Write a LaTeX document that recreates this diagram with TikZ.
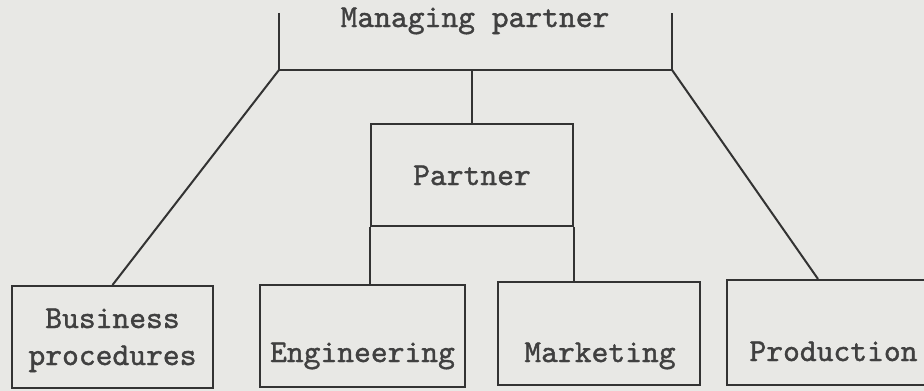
\documentclass[tikz,border=0pt]{standalone}
\usepackage{fontspec}
\newfontfamily\twfont{lmmono10-regular.otf}[FakeBold=1.2]
\definecolor{bgc}{HTML}{E8E8E5}
\definecolor{linec}{HTML}{333333}
\definecolor{textc}{HTML}{404040}
\begin{document}
\begin{tikzpicture}[x=1pt,y=-1pt,
  line/.style={draw=linec, line width=2pt},
  box/.style={line, rectangle, inner sep=0pt},
  lbl/.style={font=\twfont\fontsize{32}{37}\selectfont, text=textc, anchor=base, inner sep=0pt}]
\useasboundingbox (0,0) rectangle (924,391);
\fill[bgc] (0,0) rectangle (924,391);
\clip (0,0) rectangle (924,391);
% managing partner (open frame, top cut off)
\node[minimum width=393pt, minimum height=57pt, inner sep=0pt] (mp) at (475.5,41.5) {};
\draw[line] (mp.north west) -- (mp.south west) -- (mp.south east) -- (mp.north east);
\node[lbl] (mpt) at (475,27) {Managing partner};
% boxes
\node[box, minimum width=202pt, minimum height=102pt] (partner) at (472,175) {};
\node[box, minimum width=201pt, minimum height=102pt] (bus) at (112.5,337) {};
\node[box, minimum width=205pt, minimum height=102pt] (eng) at (362.5,336) {};
\node[box, minimum width=202pt, minimum height=103pt] (mkt) at (599,333.5) {};
\node[box, minimum width=213pt, minimum height=105pt] (prod) at (833.5,332.5) {};
% labels
\node[lbl] (partnert) at (472,185) {Partner};
\node[lbl, align=center] (bust) at (112.5,365) {Business\\procedures};
\node[lbl] (engt) at (362.5,362) {Engineering};
\node[lbl] (mktt) at (600,362) {Marketing};
\node[lbl] (prodt) at (833.5,361) {Production};
% connectors
\draw[line] (mp.south west) -- (bus.north);
\draw[line] (mp.south east) -- ([xshift=-15.5pt]prod.north);
\draw[line] (mp.south -| partner.north) -- (partner.north);
\draw[line] (partner.south west) -- (partner.south west |- eng.north);
\draw[line] (partner.south east) -- (partner.south east |- mkt.north);
\end{tikzpicture}
\end{document}
